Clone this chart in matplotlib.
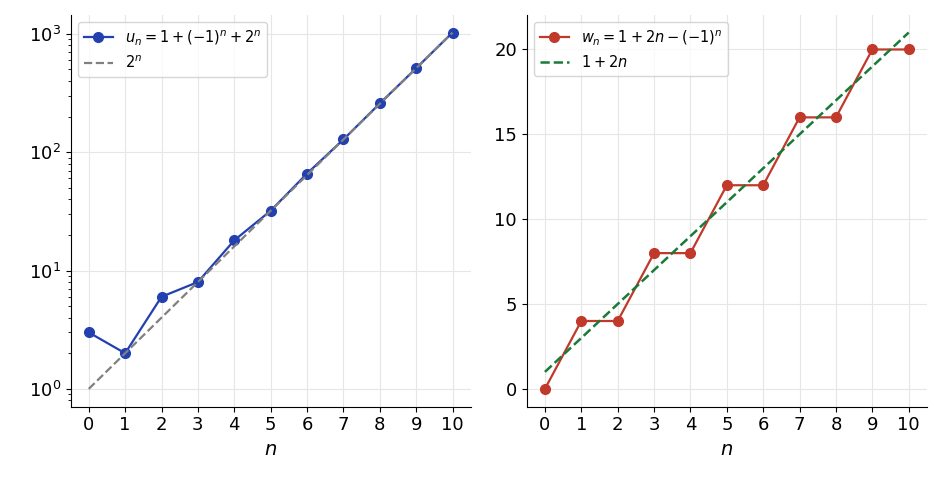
import matplotlib.pyplot as plt
import numpy as np

n = [0, 1, 2, 3, 4, 5, 6, 7, 8, 9, 10]
u_vals = [3, 2, 6, 8, 18, 32, 66, 128, 258, 512, 1026]
pow2_vals = [1, 2, 4, 8, 16, 32, 64, 128, 256, 512, 1024]
w_vals = [0, 4, 4, 8, 8, 12, 12, 16, 16, 20, 20]
lin_vals = [1, 3, 5, 7, 9, 11, 13, 15, 17, 19, 21]

fig, (ax1, ax2) = plt.subplots(1, 2, figsize=(9.41, 4.9), dpi=100)

ax1.plot(n, u_vals, 'o-', color='#2340b0', lw=1.6, ms=7, label=r'$u_n = 1 + (-1)^n + 2^n$')
ax1.plot(n, pow2_vals, '--', color='gray', lw=1.6, label=r'$2^n$')
ax1.set_yscale('log')

ax2.plot(n, w_vals, 'o-', color='#c0392b', lw=1.6, ms=7, label=r'$w_n = 1 + 2n - (-1)^n$')
ax2.plot(n, lin_vals, '--', color='#1a7a3a', lw=1.8, label=r'$1 + 2n$')
ax2.set_yticks([0, 5, 10, 15, 20])

for ax in (ax1, ax2):
    ax.set_xticks(n)
    ax.set_xlabel(r'$n$', fontsize=14)
    ax.grid(True, color='#e6e6e6', lw=0.8)
    ax.spines['top'].set_visible(False)
    ax.spines['right'].set_visible(False)
    ax.tick_params(labelsize=13)
    ax.legend(loc='upper left', fontsize=10.5)

plt.subplots_adjust(left=0.075, right=0.985, top=0.97, bottom=0.17, wspace=0.14)
plt.savefig('out.png', dpi=100)
